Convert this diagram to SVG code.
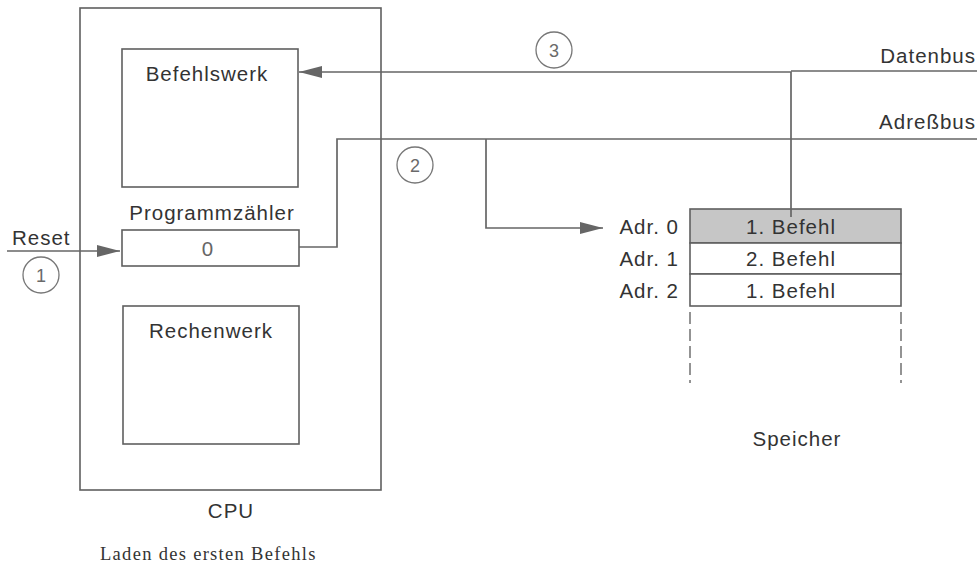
<svg xmlns="http://www.w3.org/2000/svg" width="980" height="564" viewBox="0 0 980 564">
  <defs>
    <style>
      .box { fill: #ffffff; stroke: #5f5f5f; stroke-width: 1.6; }
      .line { fill: none; stroke: #666666; stroke-width: 1.7; }
      .dash { fill: none; stroke: #666666; stroke-width: 1.4; stroke-dasharray: 12 5; }
      .lbl { font-family: "Liberation Sans", Arial, sans-serif; font-size: 20.5px; letter-spacing: 1px; fill: #333333; }
      .num { font-family: "Liberation Sans", Arial, sans-serif; font-size: 18px; fill: #6a6a6a; text-anchor: middle; }
      .circ { fill: #ffffff; stroke: #777777; stroke-width: 1.3; }
      .cap { font-family: "Liberation Serif", "Times New Roman", serif; font-size: 18.5px; letter-spacing: 1.3px; fill: #333333; }
      .mid { text-anchor: middle; }
      .end { text-anchor: end; }
    </style>
    <marker id="arrow" markerUnits="userSpaceOnUse" markerWidth="24" markerHeight="14" refX="23" refY="7" orient="auto">
      <path d="M0,1 L23,7 L0,13 Z" fill="#666666"/>
    </marker>
  </defs>
  <rect width="980" height="564" fill="#ffffff"/>

  <g id="cpu">
    <rect class="box" x="80" y="8" width="301" height="482"/>
    <text class="lbl mid" x="231" y="518">CPU</text>
  </g>

  <g id="befehlswerk">
    <rect class="box" x="122" y="49" width="176" height="138"/>
    <text class="lbl mid" x="207" y="81">Befehlswerk</text>
  </g>

  <g id="programmzaehler">
    <text class="lbl mid" x="212" y="220">Programmzähler</text>
    <rect class="box" x="122" y="230" width="177" height="36"/>
    <text class="lbl mid" x="208" y="256" style="fill:#666666">0</text>
  </g>

  <g id="rechenwerk">
    <rect class="box" x="123" y="306" width="176" height="138"/>
    <text class="lbl mid" x="211" y="338">Rechenwerk</text>
  </g>

  <g id="speicher">
    <rect x="690" y="209" width="211" height="34" fill="#c6c6c6" stroke="#5f5f5f" stroke-width="1.6"/>
    <rect class="box" x="690" y="243" width="211" height="31"/>
    <rect class="box" x="690" y="274" width="211" height="32"/>
    <path class="dash" d="M690,312 L690,383 M901,312 L901,383"/>
    <text class="lbl mid" x="791" y="234">1. Befehl</text>
    <text class="lbl mid" x="791" y="266">2. Befehl</text>
    <text class="lbl mid" x="791" y="298">1. Befehl</text>
    <text class="lbl end" x="679" y="234">Adr. 0</text>
    <text class="lbl end" x="679" y="266">Adr. 1</text>
    <text class="lbl end" x="679" y="298">Adr. 2</text>
    <text class="lbl mid" x="797" y="446">Speicher</text>
  </g>

  <g id="busses">
    <text class="lbl end" x="976" y="63">Datenbus</text>
    <text class="lbl end" x="976" y="129">Adreßbus</text>
  </g>

  <g id="connectors">
    <path class="line" d="M7,251 L120,251" marker-end="url(#arrow)"/>
    <path class="line" d="M299,247 L337,247 L337,139 L977,139"/>
    <path class="line" d="M486,139 L486,228 L603,228" marker-end="url(#arrow)"/>
    <path class="line" d="M977,71 L791,71"/>
    <path class="line" d="M791,217 L791,72 L299,72" marker-end="url(#arrow)"/>
  </g>

  <text class="lbl" x="12" y="245">Reset</text>

  <g id="step1">
    <circle class="circ" cx="41" cy="275" r="18"/>
    <text class="num" x="41" y="282">1</text>
  </g>
  <g id="step2">
    <circle class="circ" cx="415" cy="165" r="18"/>
    <text class="num" x="415" y="172">2</text>
  </g>
  <g id="step3">
    <circle class="circ" cx="554" cy="50" r="18"/>
    <text class="num" x="554" y="57">3</text>
  </g>

  <text class="cap" x="100" y="560">Laden des ersten Befehls</text>
</svg>
